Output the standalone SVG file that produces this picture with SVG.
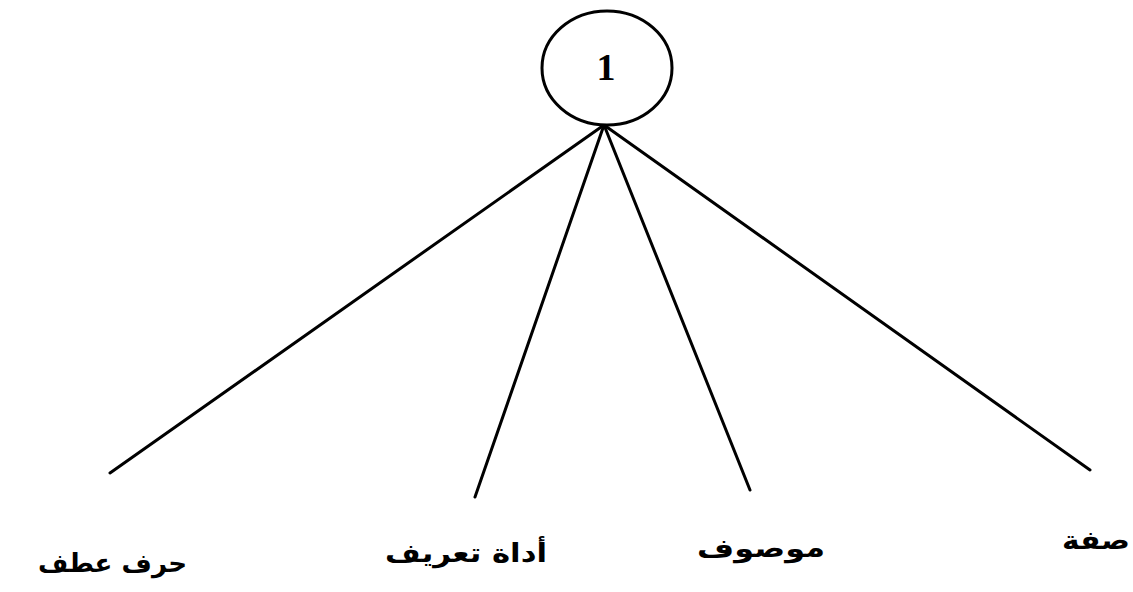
<svg xmlns="http://www.w3.org/2000/svg" width="1133" height="592" viewBox="0 0 1133 592">
<style>
.edge{stroke:#000;stroke-width:3;fill:none;stroke-linecap:round}
.lbl{font-family:"DejaVu Sans",sans-serif;font-size:26px;font-weight:bold;fill:#000}
.num{font-family:"Liberation Serif",serif;font-size:38px;font-weight:bold;fill:#000;text-anchor:middle}
</style>
<rect width="1133" height="592" fill="#fff"/>
<g id="connectors">
<line class="edge" x1="604" y1="125" x2="110" y2="473"/>
<line class="edge" x1="604" y1="125" x2="475" y2="497"/>
<line class="edge" x1="604" y1="125" x2="750" y2="490"/>
<line class="edge" x1="604" y1="125" x2="1090" y2="470"/>
</g>
<g id="node-root">
<ellipse cx="607" cy="68" rx="65" ry="57" fill="#fff" stroke="#000" stroke-width="3"/>
<text class="num" x="606" y="80">1</text>
</g>
<g id="node-harf"><text class="lbl" x="38" y="572" textLength="149" lengthAdjust="spacingAndGlyphs">حرف عطف</text></g>
<g id="node-adat"><text class="lbl" x="385" y="562" textLength="162" lengthAdjust="spacingAndGlyphs">أداة تعريف</text></g>
<g id="node-mawsuf"><text class="lbl" x="697" y="557" textLength="128" lengthAdjust="spacingAndGlyphs">موصوف</text></g>
<g id="node-sifa"><text class="lbl" x="1062" y="549" textLength="68" lengthAdjust="spacingAndGlyphs">صفة</text></g>
</svg>
